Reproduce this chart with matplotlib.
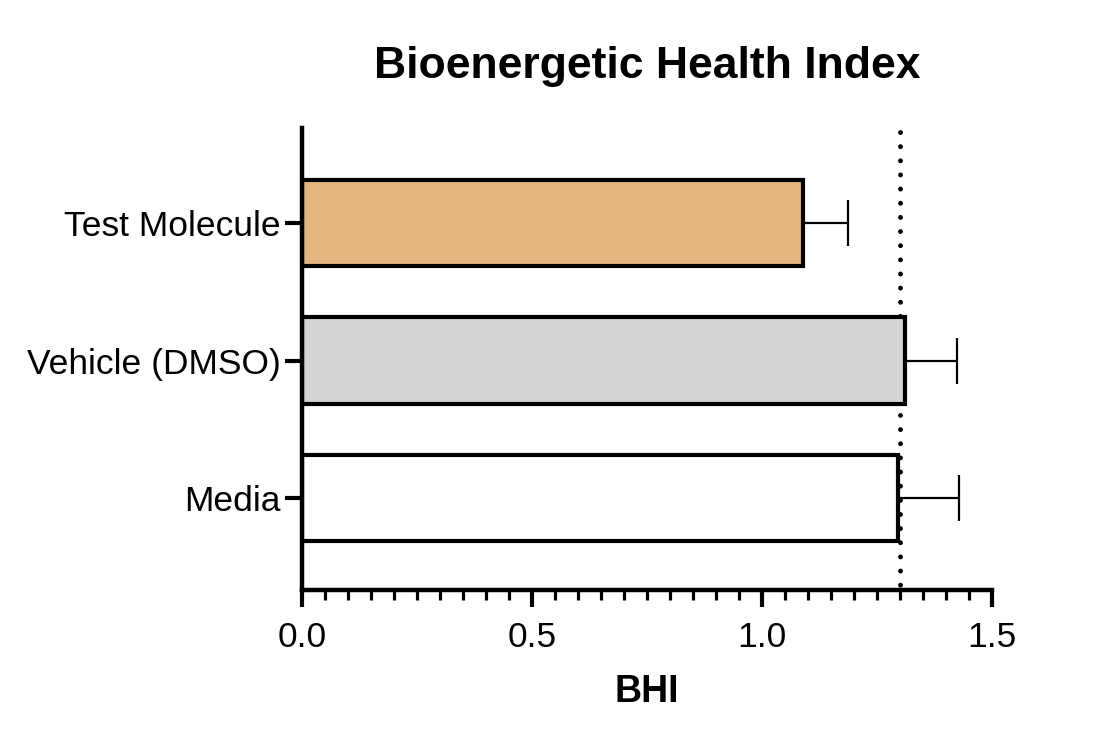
import matplotlib
matplotlib.use("Agg")
import matplotlib.pyplot as plt
from matplotlib.ticker import MultipleLocator

categories = ["Media", "Vehicle (DMSO)", "Test Molecule"]
values = [1.296, 1.311, 1.089]
errors = [0.133, 0.113, 0.098]
colors = ["#FFFFFF", "#D4D4D4", "#E3B77F"]
ref_line = 1.30
xticks = [0.0, 0.5, 1.0, 1.5]
xticklabels = ["0.0", "0.5", "1.0", "1.5"]

plt.rcParams['font.family'] = ['Liberation Sans', 'DejaVu Sans']

fig = plt.figure(figsize=(11, 7.46), dpi=100)
ax = fig.add_axes([0.2745, 0.209, 0.6273, 0.619])

pos = list(range(len(categories)))
ylo, yhi = -0.67, 2.69
ax.vlines(ref_line, yhi - 0.03, ylo, color='black', linestyle=(0, (0.01, 2.9)), lw=3.5,
          capstyle='round', zorder=0.5)
ax.barh(pos, values, height=0.63, color=colors, edgecolor='black',
        linewidth=3.0, zorder=2)
ax.errorbar(values, pos, xerr=[[0]*len(values), errors], fmt='none',
            ecolor='black', elinewidth=1.6, capsize=16.5, capthick=1.6, zorder=1)

ax.set_xlim(0, 1.5)
ax.set_ylim(ylo, yhi)
ax.set_yticks(pos)
ax.set_yticklabels(categories, fontsize=25.5)
ax.set_xticks(xticks)
ax.set_xticklabels(xticklabels, fontsize=25.5)
ax.xaxis.set_minor_locator(MultipleLocator(0.05))

for s in ['top', 'right']:
    ax.spines[s].set_visible(False)
for s in ['left', 'bottom']:
    ax.spines[s].set_linewidth(3.2)
    ax.spines[s].set_capstyle('projecting')

ax.tick_params(axis='x', which='major', length=12, width=3.0, direction='out', pad=10)
ax.tick_params(axis='x', which='minor', length=7, width=2.3, direction='out')
ax.tick_params(axis='y', which='major', length=12, width=3.0, direction='out', pad=3)

ax.set_xlabel("BHI", fontsize=27, fontweight='bold', labelpad=15)
ax.set_title("Bioenergetic Health Index", fontsize=32, fontweight='bold', pad=36)

fig.savefig("out.png", dpi=100)
